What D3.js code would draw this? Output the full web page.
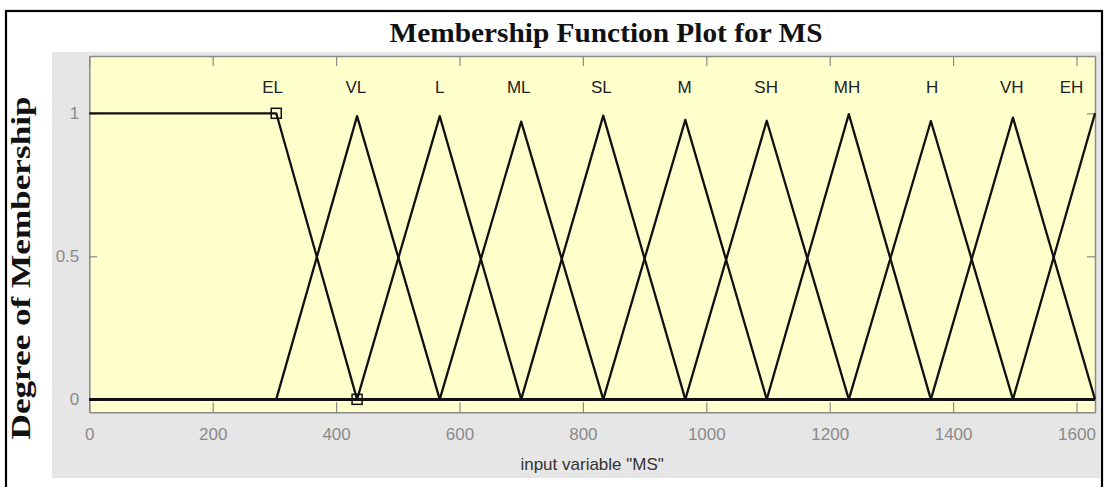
<!DOCTYPE html>
<html>
<head>
<meta charset="utf-8">
<script src="https://cdn.jsdelivr.net/npm/d3@7"></script>
<style>
	body { margin: 0; background: #fff; }
	svg { display: block; }
</style>
</head>
<body>
<script>
'use strict';

// membership functions of input "MS" (EL is trapmf, the rest trimf)
const mfNames = ["EL", "VL", "L", "ML", "SL", "M", "SH", "MH", "H", "VH", "EH"];
const mfParams = [
	[0, 0, 303, 434],
	[303, 434, 568],
	[434, 568, 700],
	[568, 700, 833],
	[700, 833, 966],
	[833, 966, 1098],
	[966, 1098, 1231],
	[1098, 1231, 1364],
	[1231, 1364, 1497],
	[1364, 1497, 1630],
	[1497, 1630, 1763]
];
// drawn peak heights (sampling makes them a bit under 1)
const mfHeights = [1, 0.99, 0.99, 0.971, 0.992, 0.977, 0.974, 0.997, 0.973, 0.985, 1];
const labelX = [297, 432, 568, 696, 830, 965, 1097, 1228, 1366, 1495, 1592];
const xDomain = [0, 1630];
const yDomain = [-0.045, 1.2];
const xTicks = [0, 200, 400, 600, 800, 1000, 1200, 1400, 1600];
const yTicks = [0, 0.5, 1];
const selectedMF = 0;

const params = {
	width: 1105,
	height: 487,
	left: 89.3,
	right: 1095,
	top: 56.1,
	bottom: 412.2
};

const trapmf = (x, [a, b, c, d]) => {
	if (x < a || x > d) return 0;
	if (x < b) return (x - a) / (b - a);
	if (x <= c) return 1;
	return (d - x) / (d - c);
};

const evalMF = (x, p) => p.length === 4 ? trapmf(x, p) : trapmf(x, [p[0], p[1], p[1], p[2]]);

// breakpoints of one MF inside the range
const mfCurve = (p, h) => {
	const xs = Array.from(new Set([xDomain[0], ...p, xDomain[1]]))
		.filter(x => x >= xDomain[0] && x <= xDomain[1])
		.sort((a, b) => a - b);
	return xs.map(x => [x, evalMF(x, p) * h]);
};

const svg = d3.select("body").append("svg")
	.attr("width", params.width)
	.attr("height", params.height);

// outer frame and grey figure panel
svg.append("rect")
	.attr("x", 6).attr("y", 11)
	.attr("width", 1096).attr("height", 520)
	.attr("fill", "#fff")
	.attr("stroke", "#000")
	.attr("stroke-width", 2.2);

svg.append("rect")
	.attr("x", 52).attr("y", 52)
	.attr("width", 1049).attr("height", 426)
	.attr("fill", "#e6e6e6");

svg.append("text")
	.attr("x", 606).attr("y", 42)
	.attr("text-anchor", "middle")
	.attr("font-family", "'Liberation Serif', 'Times New Roman', serif")
	.attr("font-weight", "bold")
	.attr("font-size", 27)
	.attr("textLength", 433)
	.attr("lengthAdjust", "spacingAndGlyphs")
	.attr("fill", "#111")
	.text("Membership Function Plot for MS");

svg.append("text")
	.attr("transform", "translate(30,268) rotate(-90)")
	.attr("text-anchor", "middle")
	.attr("font-family", "'Liberation Serif', 'Times New Roman', serif")
	.attr("font-weight", "bold")
	.attr("font-size", 27)
	.attr("textLength", 343)
	.attr("lengthAdjust", "spacingAndGlyphs")
	.attr("fill", "#111")
	.text("Degree of Membership");

const xScale = d3.scaleLinear().domain(xDomain).range([params.left, params.right]);
const yScale = d3.scaleLinear().domain(yDomain).range([params.bottom, params.top]);

svg.append("rect")
	.attr("x", xScale(xDomain[0]))
	.attr("y", yScale(yDomain[1]))
	.attr("width", xScale(xDomain[1]) - xScale(xDomain[0]))
	.attr("height", yScale(yDomain[0]) - yScale(yDomain[1]))
	.attr("fill", "#ffffcc");

svg.append("clipPath").attr("id", "plotClip")
	.append("rect")
	.attr("x", xScale(xDomain[0]) - 1)
	.attr("y", yScale(yDomain[1]))
	.attr("width", xScale(xDomain[1]) - xScale(xDomain[0]) + 2)
	.attr("height", yScale(yDomain[0]) - yScale(yDomain[1]));

// axes, ticks pointing inwards
const styleAxis = (g) => {
	g.selectAll("text")
		.attr("font-family", "'Liberation Sans', Arial, sans-serif")
		.attr("font-size", 17)
		.attr("fill", "#8a8a8a");
	g.selectAll("line").attr("stroke", "#8a8a8a").attr("stroke-width", 1.2);
	g.select(".domain").attr("stroke", "#8a8a8a").attr("stroke-width", 1.5);
};

svg.append("g")
	.attr("transform", `translate(0,${params.bottom})`)
	.call(d3.axisBottom(xScale).tickValues(xTicks).tickFormat(d3.format("d"))
		.tickSizeInner(-10).tickSizeOuter(0).tickPadding(16))
	.call(styleAxis);

svg.append("g")
	.attr("transform", `translate(0,${params.top})`)
	.call(d3.axisTop(xScale).tickValues(xTicks).tickFormat("")
		.tickSizeInner(-10).tickSizeOuter(0))
	.call(styleAxis);

svg.append("g")
	.attr("transform", `translate(${params.left},0)`)
	.call(d3.axisLeft(yScale).tickValues(yTicks).tickFormat(d3.format("~g"))
		.tickSizeInner(-8).tickSizeOuter(0).tickPadding(10))
	.call(styleAxis);

svg.append("g")
	.attr("transform", `translate(${params.right},0)`)
	.call(d3.axisRight(yScale).tickValues(yTicks).tickFormat("")
		.tickSizeInner(-8).tickSizeOuter(0))
	.call(styleAxis);

svg.append("text")
	.attr("x", (params.left + params.right) / 2)
	.attr("y", 470)
	.attr("text-anchor", "middle")
	.attr("font-family", "'Liberation Sans', Arial, sans-serif")
	.attr("font-size", 17)
	.attr("fill", "#333")
	.text('input variable "MS"');

// membership curves
const line = d3.line()
	.x(d => xScale(d[0]))
	.y(d => yScale(d[1]));

svg.append("g")
	.attr("clip-path", "url(#plotClip)")
	.selectAll("path")
	.data(mfParams)
	.join("path")
	.attr("d", (p, i) => line(mfCurve(p, mfHeights[i])))
	.attr("fill", "none")
	.attr("stroke", "#111")
	.attr("stroke-width", 2.3)
	.attr("stroke-linejoin", "round");

svg.append("g")
	.selectAll("text")
	.data(mfNames)
	.join("text")
	.attr("x", (d, i) => xScale(labelX[i]))
	.attr("y", 93)
	.attr("text-anchor", "middle")
	.attr("font-family", "'Liberation Sans', Arial, sans-serif")
	.attr("font-size", 17)
	.attr("fill", "#222")
	.text(d => d);

// square markers on the selected MF corners
const sel = mfParams[selectedMF];
svg.append("g")
	.selectAll("rect")
	.data([[sel[2], 1], [sel[3], 0]])
	.join("rect")
	.attr("x", d => xScale(d[0]) - 5)
	.attr("y", d => yScale(d[1]) - 5)
	.attr("width", 10)
	.attr("height", 10)
	.attr("fill", "none")
	.attr("stroke", "#111")
	.attr("stroke-width", 1.5);
</script>
</body>
</html>
